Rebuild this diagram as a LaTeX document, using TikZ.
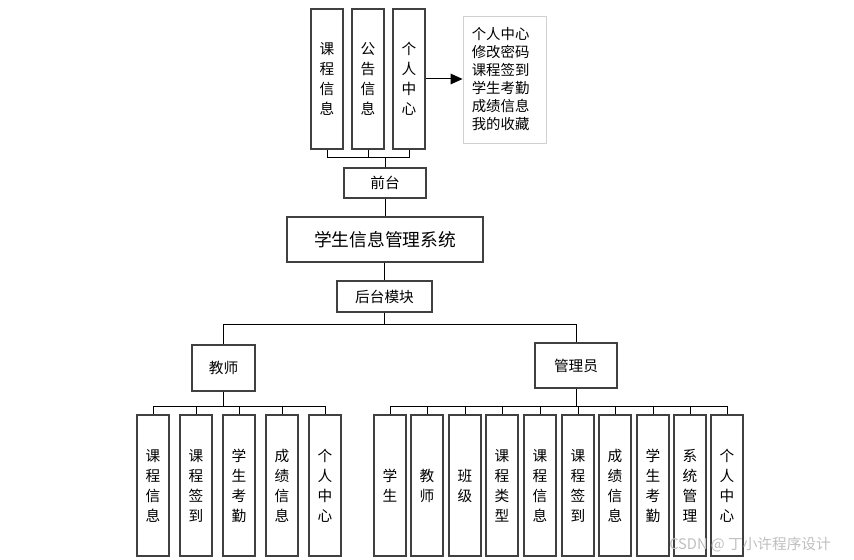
\documentclass[tikz,border=0pt]{standalone}
\usepackage{fontspec}
\setmainfont{Noto Sans CJK SC}
\usetikzlibrary{arrows.meta,shadows}
\begin{document}
\begin{tikzpicture}[x=0.75pt,y=-0.75pt,
  box/.style={draw=black!75, line width=0.9pt, fill=white, inner sep=0pt, align=center,
    drop shadow={shadow xshift=0.6pt, shadow yshift=-0.6pt, fill=black!18, opacity=1}},
  vbox/.style={box, minimum width=24pt, minimum height=105.75pt, font=\fontsize{11}{15}\selectfont},
  vboxb/.style={vbox, minimum height=105.75pt},
  hbox/.style={box, font=\fontsize{11}{13}\selectfont},
  conn/.style={draw=black, line width=0.75pt},
  descbox/.style={draw=black!18, line width=0.7pt, fill=white, inner sep=0pt, align=left,
    text width=49pt, minimum width=62.25pt, minimum height=95.25pt, font=\fontsize{10.8}{13.5}\selectfont,
    drop shadow={shadow xshift=1pt, shadow yshift=-1pt, fill=black!8, opacity=1}}]
\useasboundingbox[fill=white] (0,0) rectangle (854,560);

% top
\node[vbox, minimum height=105pt] (t1) at (327,79) {课\\程\\信\\息};
\node[vbox, minimum height=105pt] (t2) at (368,79) {公\\告\\信\\息};
\node[vbox, minimum height=105pt] (t3) at (409,79) {个\\人\\中\\心};
\node[descbox] (desc) at (504.5,79.5) {个人中心\\修改密码\\课程签到\\学生考勤\\成绩信息\\我的收藏};
\draw[conn, -{Triangle[length=9pt,width=8pt]}] (t3.east |- 0,79) -- (desc.west |- 0,79);

\node[hbox, minimum width=61.5pt, minimum height=22.5pt] (qt) at (385,183) {前台};
\node[box, minimum width=147pt, minimum height=33.75pt, font=\fontsize{13.3}{15}\selectfont] (sys) at (385,239.5) {学生信息管理系统};
\node[hbox, minimum width=71.25pt, minimum height=23.25pt] (ht) at (384.5,296.5) {后台模块};
\node[hbox, minimum width=47.25pt, minimum height=34.5pt] (js) at (223.5,368) {教师};
\node[hbox, minimum width=61.5pt, minimum height=33.75pt] (gl) at (576,365.5) {管理员};

\coordinate (busT) at (385,158);
\coordinate (busM) at (385,324);
\coordinate (busB) at (385,406);

\draw[conn] (t1.south) |- (t3.south |- busT) -- (t3.south);
\draw[conn] (t2.south) -- (t2.south |- busT);
\draw[conn] (qt.north) -- (qt.north |- busT);
\draw[conn] (qt.south) -- (sys.north -| qt.south);
\draw[conn] (sys.south -| ht.north) -- (ht.north);
\draw[conn] (ht.south) -- (ht.south |- busM);
\draw[conn] (js.north) |- (gl.north |- busM) -- (gl.north);

% teacher children
\node[vboxb] (a1) at (153,485.5) {课\\程\\信\\息};
\node[vboxb] (a2) at (196,485.5) {课\\程\\签\\到};
\node[vboxb] (a3) at (239,485.5) {学\\生\\考\\勤};
\node[vboxb] (a4) at (282,485.5) {成\\绩\\信\\息};
\node[vboxb] (a5) at (325,485.5) {个\\人\\中\\心};
\draw[conn] (js.south) -- (js.south |- busB);
\draw[conn] (a1.north) |- (a5.north |- busB) -- (a5.north);
\foreach \n in {a2,a3,a4} \draw[conn] (\n.north) -- (\n.north |- busB);

% admin children
\node[vboxb] (b1) at (390,485.5) {学\\生};
\node[vboxb] (b2) at (427,485.5) {教\\师};
\node[vboxb] (b3) at (465,485.5) {班\\级};
\node[vboxb] (b4) at (502,485.5) {课\\程\\类\\型};
\node[vboxb] (b5) at (540,485.5) {课\\程\\信\\息};
\node[vboxb] (b6) at (578,485.5) {课\\程\\签\\到};
\node[vboxb] (b7) at (615,485.5) {成\\绩\\信\\息};
\node[vboxb] (b8) at (653,485.5) {学\\生\\考\\勤};
\node[vboxb] (b9) at (690,485.5) {系\\统\\管\\理};
\node[vboxb] (b10) at (727,485.5) {个\\人\\中\\心};
\draw[conn] (gl.south) -- (gl.south |- busB);
\draw[conn] (b1.north) |- (b10.north |- busB) -- (b10.north);
\foreach \n in {b2,b3,b4,b5,b6,b7,b8,b9} \draw[conn] (\n.north) -- (\n.north |- busB);

% watermark
\node[anchor=west, inner sep=0pt, text=black!25, font=\fontsize{11}{13}\selectfont] (wm) at (669,545) {CSDN @ 丁小许程序设计};
\end{tikzpicture}
\end{document}
